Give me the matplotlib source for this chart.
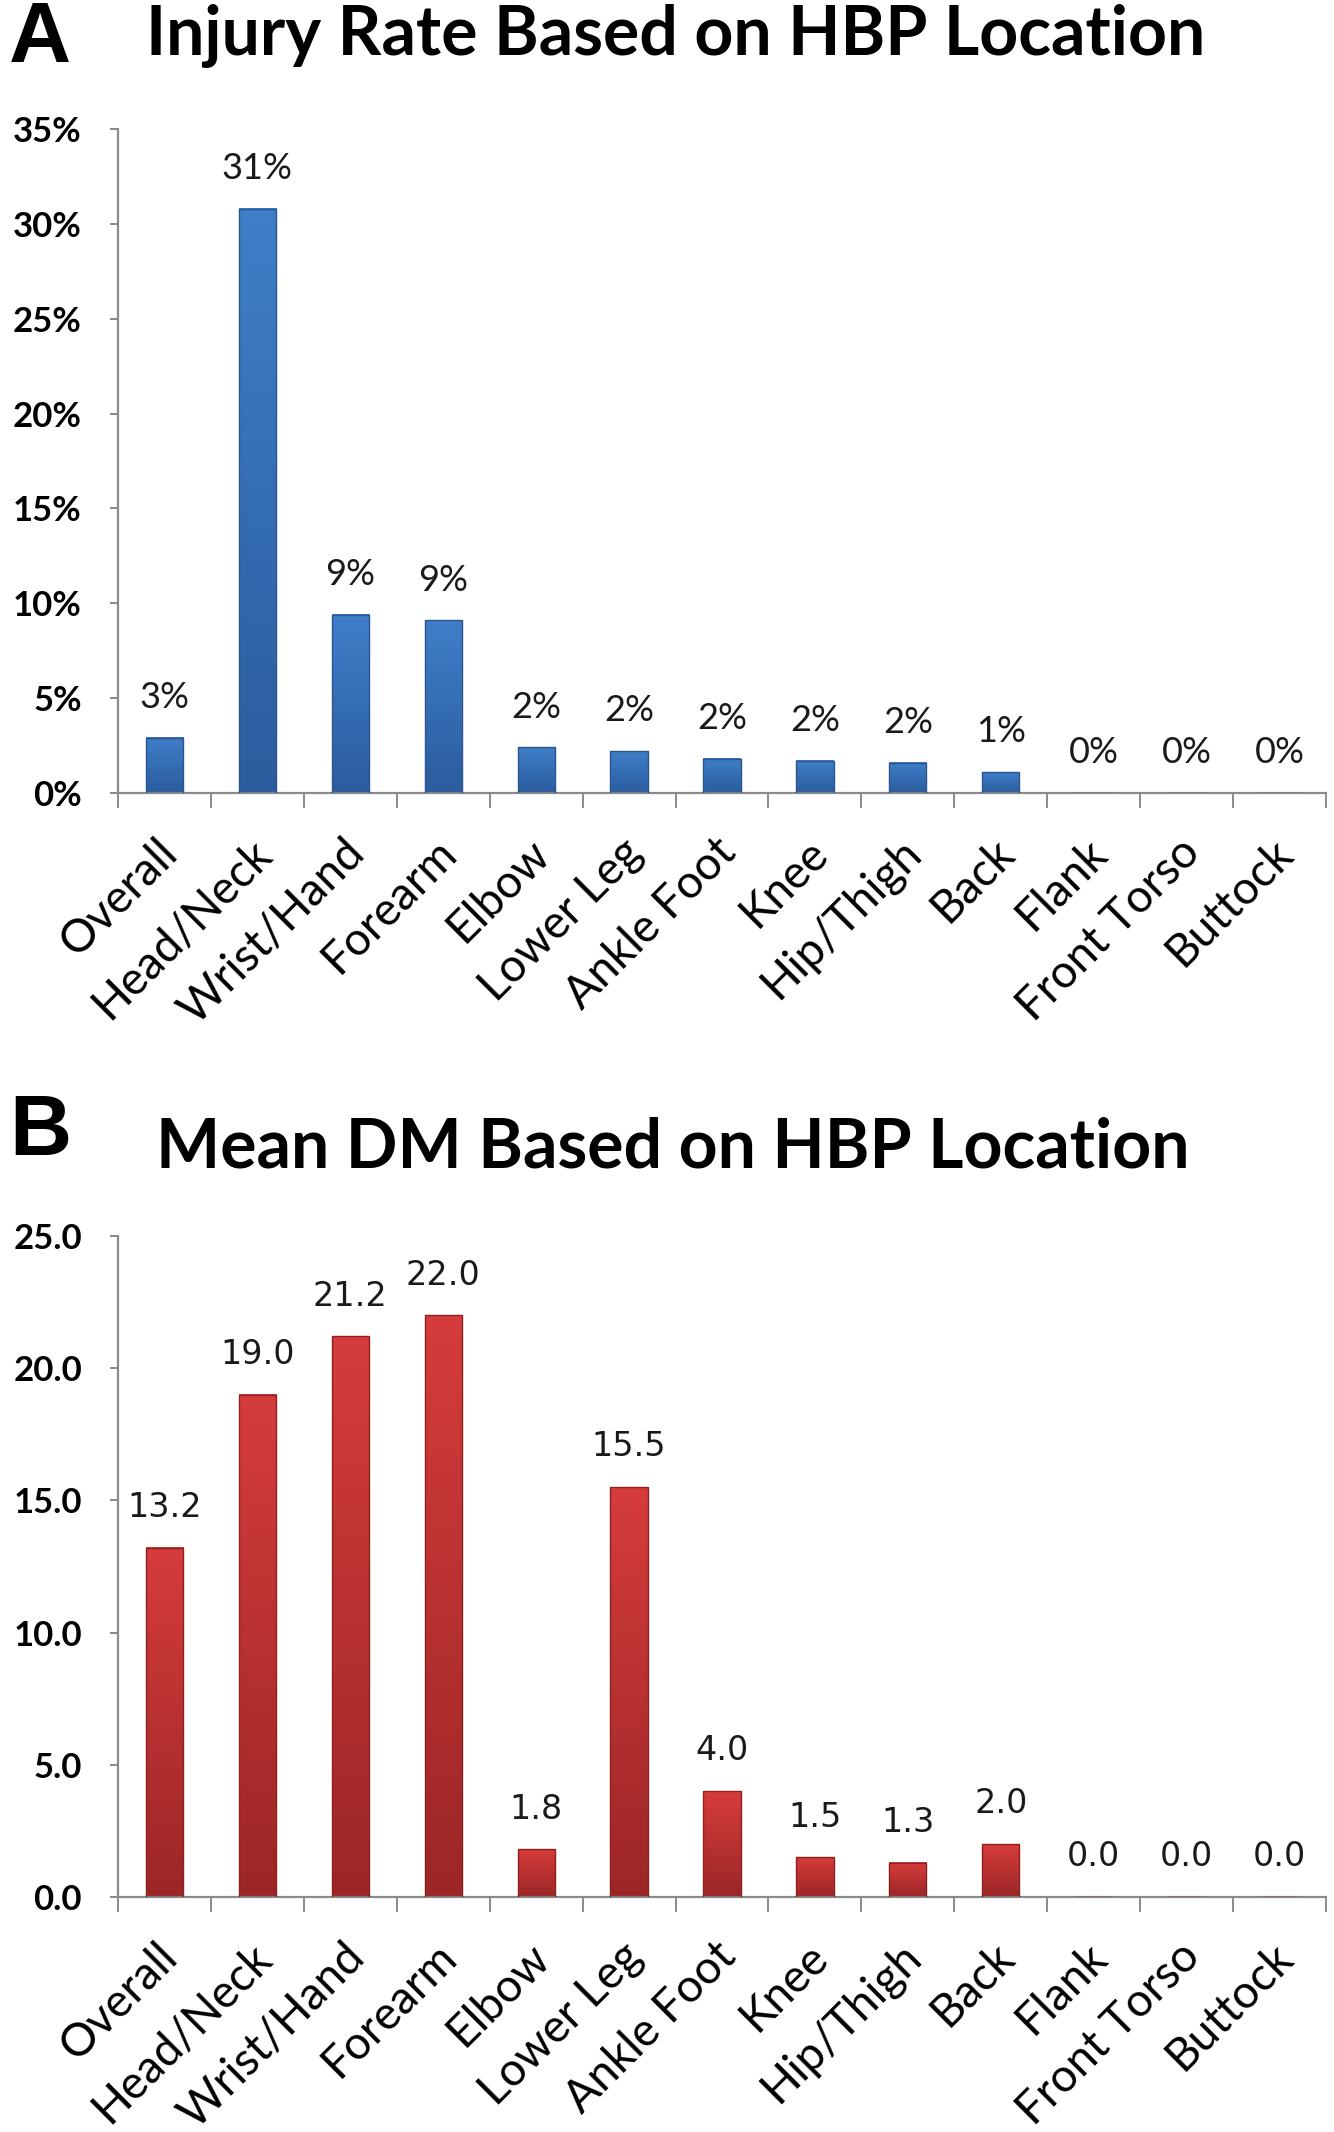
import matplotlib
matplotlib.use("Agg")
import matplotlib.pyplot as plt
import matplotlib.transforms as mtransforms
import numpy as np
from matplotlib.colors import LinearSegmentedColormap
from matplotlib.ticker import FuncFormatter

CATEGORIES = ["Overall", "Head/Neck", "Wrist/Hand", "Forearm", "Elbow", "Lower Leg",
              "Ankle Foot", "Knee", "Hip/Thigh", "Back", "Flank", "Front Torso", "Buttock"]

INJURY_RATE = [0.029, 0.308, 0.094, 0.091, 0.024, 0.022, 0.018, 0.017, 0.016, 0.011, 0.0, 0.0, 0.0]
MEAN_DM = [13.2, 19.0, 21.2, 22.0, 1.8, 15.5, 4.0, 1.5, 1.3, 2.0, 0.0, 0.0, 0.0]

W, H = 1334, 2132
fig = plt.figure(figsize=(W / 100, H / 100), dpi=100)

AXIS_GRAY = "#8a8a8a"
BLUE = LinearSegmentedColormap.from_list("blue", ["#2b5c9e", "#3f7fc8"])
RED = LinearSegmentedColormap.from_list("red", ["#9c2626", "#d63c3c"])


def gradient_bars(ax, values, cmap, edge):
    bars = ax.bar(np.arange(len(values)), values, width=0.4, facecolor="none",
                  edgecolor=edge, linewidth=1.0, zorder=3)
    grad = np.linspace(0, 1, 256).reshape(-1, 1)
    for b in bars:
        if b.get_height() <= 0:
            continue
        x0, w, h = b.get_x(), b.get_width(), b.get_height()
        ax.imshow(grad, extent=[x0, x0 + w, 0, h], origin="lower", aspect="auto",
                  cmap=cmap, zorder=2, interpolation="bicubic")
    return bars


def style_axes(ax, ymax, yticks, yfmt, labels_fmt, values, label_font):
    n = len(values)
    ax.set_xlim(-0.5, n - 0.5)
    ax.set_ylim(0, ymax)
    for s in ["top", "right"]:
        ax.spines[s].set_visible(False)
    for s in ["left", "bottom"]:
        ax.spines[s].set_color(AXIS_GRAY)
        ax.spines[s].set_linewidth(1.6)
    ax.set_yticks(yticks)
    ax.yaxis.set_major_formatter(FuncFormatter(yfmt))
    ax.tick_params(axis="y", direction="out", length=6, width=1.4, color=AXIS_GRAY,
                   pad=20, labelsize=25)
    for t in ax.get_yticklabels():
        t.set_fontfamily("Lato")
        t.set_fontweight("bold")
    ax.set_xticks(np.arange(-0.5, n, 1.0))
    ax.set_xticklabels([])
    ax.tick_params(axis="x", which="major", direction="out", length=11, width=1.4,
                   color=AXIS_GRAY)
    ax.set_xticks(np.arange(n), minor=True)
    ax.set_xticklabels(CATEGORIES, minor=True, rotation=45, ha="right",
                       rotation_mode="anchor", fontsize=33, fontfamily="Lato")
    ax.tick_params(axis="x", which="minor", length=0, pad=26)
    shift = mtransforms.ScaledTranslation(-8 / 100, -2 / 100, fig.dpi_scale_trans)
    for t in ax.get_xticklabels(minor=True):
        t.set_transform(t.get_transform() + shift)
    for x, v in enumerate(values):
        ax.annotate(labels_fmt(v), (x, v), xytext=(0, 29), textcoords="offset points",
                    ha="center", va="center", fontsize=label_font[1],
                    fontfamily=label_font[0], color="#1a1a1a")


axA = fig.add_axes([118 / W, 1 - 793 / H, (1326 - 118) / W, (793 - 129) / H])
gradient_bars(axA, INJURY_RATE, BLUE, "#2a5590")
style_axes(axA, 0.35, np.arange(0, 0.351, 0.05), lambda y, _: f"{y * 100:.0f}%",
           lambda v: f"{v * 100:.0f}%", INJURY_RATE, ("Lato", 26))

axB = fig.add_axes([118 / W, 1 - 1897 / H, (1326 - 118) / W, (1897 - 1236) / H])
gradient_bars(axB, MEAN_DM, RED, "#8e2020")
style_axes(axB, 25, np.arange(0, 25.1, 5), lambda y, _: f"{y:.1f}",
           lambda v: f"{v:.1f}", MEAN_DM, ("DejaVu Sans", 24))

fig.text(676 / W, 1 - 36 / H, "Injury Rate Based on HBP Location", ha="center",
         va="center", fontsize=49, fontweight="bold", fontfamily="Lato")
fig.text(40 / W, 1 - 40 / H, "A", ha="center", va="center", fontsize=62,
         fontweight="bold", fontfamily="Liberation Sans")
fig.text(673 / W, 1 - 1148 / H, "Mean DM Based on HBP Location", ha="center",
         va="center", fontsize=49, fontweight="bold", fontfamily="Lato")
fig.text(40 / W, 1 - 1133 / H, "B", ha="center", va="center", fontsize=62,
         fontweight="bold", fontfamily="Liberation Sans")

fig.savefig("out.png", dpi=100)
